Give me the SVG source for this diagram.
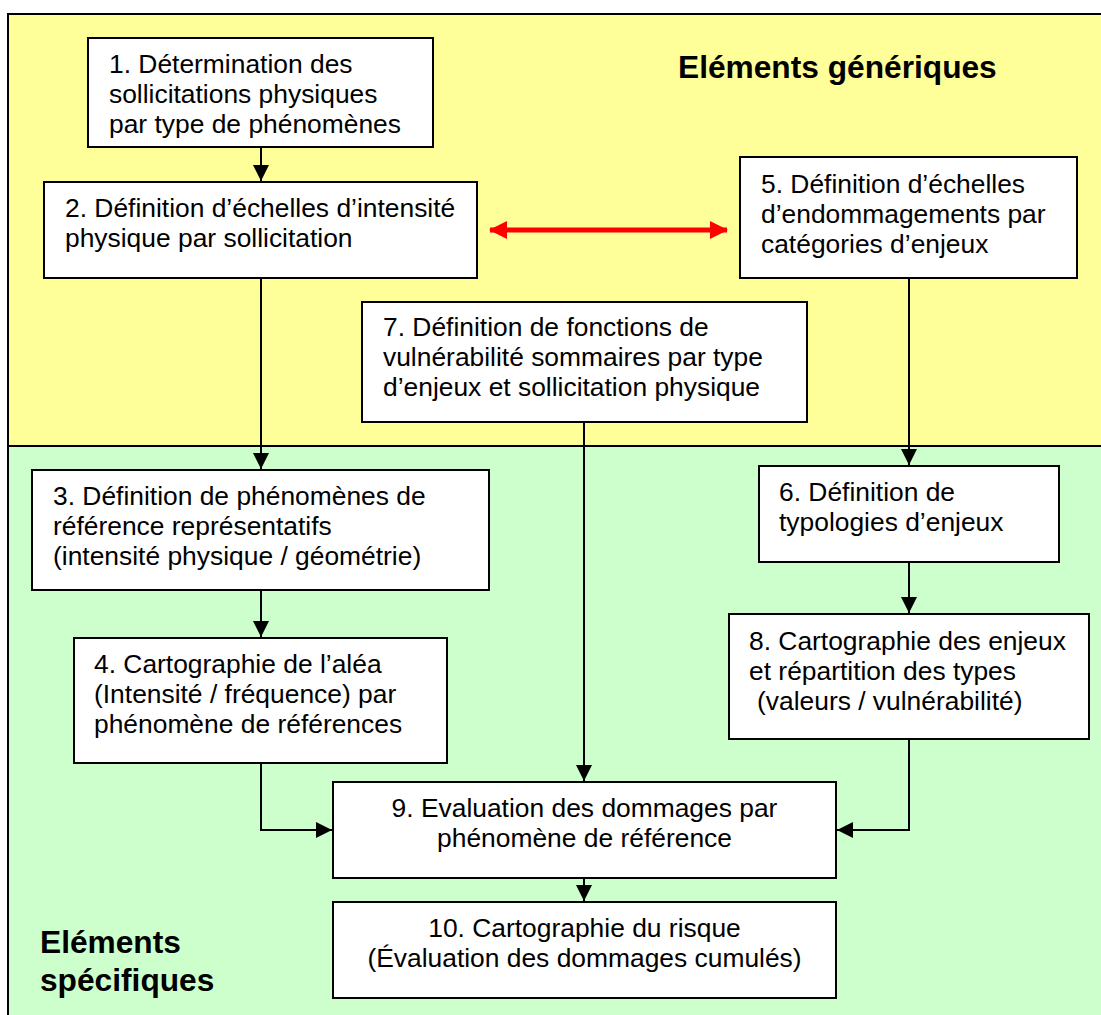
<svg xmlns="http://www.w3.org/2000/svg" width="1101" height="1015" viewBox="0 0 1101 1015">
<style>
.box{fill:#fff;stroke:#000;stroke-width:2}
.t{font-family:"Liberation Sans",Arial,sans-serif;font-size:26.4px;fill:#000}
.c{text-anchor:middle}
.h{font-family:"Liberation Sans",Arial,sans-serif;font-size:31.7px;font-weight:bold;fill:#000}
.ln{fill:none;stroke:#000;stroke-width:2}
</style>
<defs>
<marker id="ah" markerUnits="userSpaceOnUse" markerWidth="16" markerHeight="16" viewBox="0 0 16 16" refX="16" refY="8" orient="auto">
<path d="M0,0 L16,8 L0,16 Z" fill="#000"/>
</marker>
<marker id="rh" markerUnits="userSpaceOnUse" markerWidth="18" markerHeight="18" viewBox="0 0 18 18" refX="17" refY="9" orient="auto-start-reverse">
<path d="M0,0 L18,9 L0,18 Z" fill="#f00"/>
</marker>
</defs>
<rect x="0" y="0" width="1101" height="1015" fill="#fff"/>
<g id="background">
<rect x="8" y="14" width="1093" height="432" fill="#ffff99"/>
<rect x="8" y="446" width="1093" height="569" fill="#ccffcc"/>
<path d="M8,1015 V14 H1101 M8,446 H1101" class="ln"/>
</g>
<g id="titles">
<text class="h" x="678" y="78">Eléments génériques</text>
<text class="h" x="40" y="953">Eléments</text>
<text class="h" x="40" y="991">spécifiques</text>
</g>
<g id="connectors">
<line class="ln" x1="261" y1="147" x2="261" y2="181" marker-end="url(#ah)"/>
<line class="ln" x1="261" y1="278" x2="261" y2="469" marker-end="url(#ah)"/>
<line class="ln" x1="261" y1="590" x2="261" y2="637" marker-end="url(#ah)"/>
<polyline class="ln" points="261,763 261,830 332,830" marker-end="url(#ah)"/>
<line class="ln" x1="909" y1="278" x2="909" y2="465" marker-end="url(#ah)"/>
<line class="ln" x1="909" y1="562" x2="909" y2="613" marker-end="url(#ah)"/>
<polyline class="ln" points="909,739 909,830 837,830" marker-end="url(#ah)"/>
<line class="ln" x1="584" y1="422" x2="584" y2="781" marker-end="url(#ah)"/>
<line class="ln" x1="584" y1="878" x2="584" y2="901" marker-end="url(#ah)"/>
<line x1="490" y1="230" x2="727" y2="230" stroke="#f00" stroke-width="5" marker-start="url(#rh)" marker-end="url(#rh)"/>
</g>
<g id="n1">
<rect class="box" x="88" y="38" width="345" height="109"/>
<text class="t" x="109" y="73">1. Détermination des</text>
<text class="t" x="109" y="103">sollicitations physiques</text>
<text class="t" x="109" y="133">par type de phénomènes</text>
</g>
<g id="n2">
<rect class="box" x="44" y="182" width="433" height="96"/>
<text class="t" x="65" y="217">2. Définition d’échelles d’intensité</text>
<text class="t" x="65" y="247">physique par sollicitation</text>
</g>
<g id="n5">
<rect class="box" x="740" y="157" width="337" height="121"/>
<text class="t" x="761" y="193">5. Définition d’échelles</text>
<text class="t" x="761" y="223">d’endommagements par</text>
<text class="t" x="761" y="253">catégories d’enjeux</text>
</g>
<g id="n7">
<rect class="box" x="362" y="302" width="445" height="120"/>
<text class="t" x="383" y="336">7. Définition de fonctions de</text>
<text class="t" x="383" y="366">vulnérabilité sommaires par type</text>
<text class="t" x="383" y="396">d’enjeux et sollicitation physique</text>
</g>
<g id="n3">
<rect class="box" x="32" y="470" width="457" height="120"/>
<text class="t" x="53" y="505">3. Définition de phénomènes de</text>
<text class="t" x="53" y="535">référence représentatifs</text>
<text class="t" x="53" y="565">(intensité physique / géométrie)</text>
</g>
<g id="n4">
<rect class="box" x="74" y="638" width="373" height="125"/>
<text class="t" x="94" y="673">4. Cartographie de l’aléa</text>
<text class="t" x="94" y="703">(Intensité / fréquence) par</text>
<text class="t" x="94" y="733">phénomène de références</text>
</g>
<g id="n6">
<rect class="box" x="759" y="466" width="300" height="96"/>
<text class="t" x="779" y="501">6. Définition de</text>
<text class="t" x="779" y="531">typologies d’enjeux</text>
</g>
<g id="n8">
<rect class="box" x="729" y="614" width="360" height="125"/>
<text class="t" x="749" y="650">8. Cartographie des enjeux</text>
<text class="t" x="749" y="680">et répartition des types</text>
<text class="t" x="757" y="710">(valeurs / vulnérabilité)</text>
</g>
<g id="n9">
<rect class="box" x="333" y="782" width="503" height="96"/>
<text class="t c" x="584.5" y="817">9. Evaluation des dommages par</text>
<text class="t c" x="584.5" y="847">phénomène de référence</text>
</g>
<g id="n10">
<rect class="box" x="333" y="902" width="503" height="96"/>
<text class="t c" x="584.5" y="937">10. Cartographie du risque</text>
<text class="t c" x="584.5" y="967">(Évaluation des dommages cumulés)</text>
</g>
</svg>
